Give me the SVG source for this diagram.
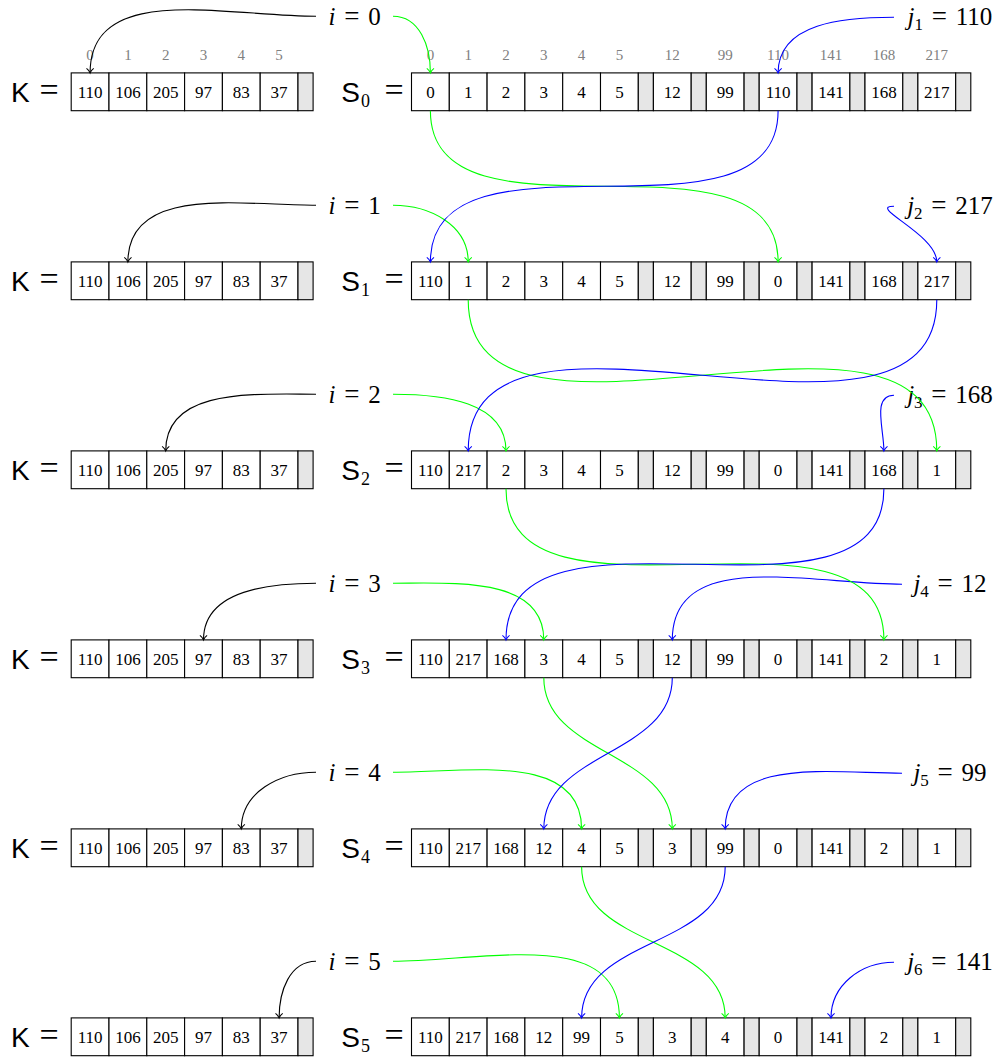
<svg xmlns="http://www.w3.org/2000/svg" xmlns:xlink="http://www.w3.org/1999/xlink" width="1008" height="1059" viewBox="0 0 1008 1059">
<style>
.cell{fill:#fff;stroke:#000;stroke-width:1.1}
.gap{fill:#e6e6e6;stroke:#000;stroke-width:1.1}
.num{font-family:"Liberation Serif",serif;font-size:17px;text-anchor:middle;fill:#000}
.idx{font-family:"Liberation Serif",serif;font-size:15px;text-anchor:middle;fill:#808080}
.lab{font-family:"Liberation Serif",serif;font-size:25px;text-anchor:middle;word-spacing:2.5px;fill:#000}
.le{font-size:27px}
.ss{font-family:"Liberation Sans",sans-serif;font-size:28px;fill:#000}
.eq{font-family:"Liberation Serif",serif;font-size:34px;text-anchor:middle;fill:#000}
.sub{font-family:"Liberation Serif",serif;font-size:18px;fill:#000}
.c{fill:none;stroke-width:1.1}
.k{stroke:#000}
.g{stroke:#00ff00}
.b{stroke:#0000ff}
</style>
<defs>
<marker id="ak" markerUnits="userSpaceOnUse" markerWidth="12" markerHeight="12" viewBox="-7 -6 8 12" refX="0" refY="0" orient="auto"><path d="M-4.5,-3.6 C-3,-1.5 -1,-0.4 0,0 C-1,0.4 -3,1.5 -4.5,3.6" fill="none" stroke="#000" stroke-width="1.1"/></marker>
<marker id="ag" markerUnits="userSpaceOnUse" markerWidth="12" markerHeight="12" viewBox="-7 -6 8 12" refX="0" refY="0" orient="auto"><path d="M-4.5,-3.6 C-3,-1.5 -1,-0.4 0,0 C-1,0.4 -3,1.5 -4.5,3.6" fill="none" stroke="#00ff00" stroke-width="1.1"/></marker>
<marker id="ab" markerUnits="userSpaceOnUse" markerWidth="12" markerHeight="12" viewBox="-7 -6 8 12" refX="0" refY="0" orient="auto"><path d="M-4.5,-3.6 C-3,-1.5 -1,-0.4 0,0 C-1,0.4 -3,1.5 -4.5,3.6" fill="none" stroke="#0000ff" stroke-width="1.1"/></marker>
<g id="kframe">
<rect class="cell" x="71.2" y="0" width="37.8" height="37.8"/>
<rect class="cell" x="109" y="0" width="37.8" height="37.8"/>
<rect class="cell" x="146.8" y="0" width="37.8" height="37.8"/>
<rect class="cell" x="184.6" y="0" width="37.8" height="37.8"/>
<rect class="cell" x="222.4" y="0" width="37.8" height="37.8"/>
<rect class="cell" x="260.2" y="0" width="37.8" height="37.8"/>
<rect class="gap" x="298" y="0" width="15.1" height="37.8"/>
</g>
<g id="sframe">
<rect class="cell" x="411.5" y="0" width="37.8" height="37.8"/>
<rect class="cell" x="449.3" y="0" width="37.8" height="37.8"/>
<rect class="cell" x="487.1" y="0" width="37.8" height="37.8"/>
<rect class="cell" x="524.9" y="0" width="37.8" height="37.8"/>
<rect class="cell" x="562.7" y="0" width="37.8" height="37.8"/>
<rect class="cell" x="600.5" y="0" width="37.8" height="37.8"/>
<rect class="gap" x="638.3" y="0" width="15.1" height="37.8"/>
<rect class="cell" x="653.4" y="0" width="37.8" height="37.8"/>
<rect class="gap" x="691.2" y="0" width="15.1" height="37.8"/>
<rect class="cell" x="706.3" y="0" width="37.8" height="37.8"/>
<rect class="gap" x="744.1" y="0" width="15.1" height="37.8"/>
<rect class="cell" x="759.2" y="0" width="37.8" height="37.8"/>
<rect class="gap" x="797" y="0" width="15.1" height="37.8"/>
<rect class="cell" x="812.1" y="0" width="37.8" height="37.8"/>
<rect class="gap" x="849.9" y="0" width="15.1" height="37.8"/>
<rect class="cell" x="865" y="0" width="37.8" height="37.8"/>
<rect class="gap" x="902.8" y="0" width="15.1" height="37.8"/>
<rect class="cell" x="917.9" y="0" width="37.8" height="37.8"/>
<rect class="gap" x="955.7" y="0" width="15.1" height="37.8"/>
</g>
</defs>

<g id="indices">
<text class="idx" y="59.5"><tspan x="90.1">0</tspan><tspan x="127.9">1</tspan><tspan x="165.7">2</tspan><tspan x="203.5">3</tspan><tspan x="241.3">4</tspan><tspan x="279.1">5</tspan></text>
<text class="idx" y="59.5"><tspan x="430.4">0</tspan><tspan x="468.2">1</tspan><tspan x="506">2</tspan><tspan x="543.8">3</tspan><tspan x="581.6">4</tspan><tspan x="619.4">5</tspan><tspan x="672.3">12</tspan><tspan x="725.2">99</tspan><tspan x="778.1">110</tspan><tspan x="831">141</tspan><tspan x="883.9">168</tspan><tspan x="936.8">217</tspan></text>
</g>

<!-- K rows -->
<g id="K0">
<text class="ss" x="11" y="101.9">K</text><text class="eq" x="49" y="100.5">=</text>
<use xlink:href="#kframe" x="0" y="72.9"/>
<text class="num" y="97.7"><tspan x="90.1">110</tspan><tspan x="127.9">106</tspan><tspan x="165.7">205</tspan><tspan x="203.5">97</tspan><tspan x="241.3">83</tspan><tspan x="279.1">37</tspan></text>
</g>
<g id="K1">
<text class="ss" x="11" y="290.9">K</text><text class="eq" x="49" y="289.5">=</text>
<use xlink:href="#kframe" x="0" y="261.9"/>
<text class="num" y="286.7"><tspan x="90.1">110</tspan><tspan x="127.9">106</tspan><tspan x="165.7">205</tspan><tspan x="203.5">97</tspan><tspan x="241.3">83</tspan><tspan x="279.1">37</tspan></text>
</g>
<g id="K2">
<text class="ss" x="11" y="479.9">K</text><text class="eq" x="49" y="478.5">=</text>
<use xlink:href="#kframe" x="0" y="450.9"/>
<text class="num" y="475.7"><tspan x="90.1">110</tspan><tspan x="127.9">106</tspan><tspan x="165.7">205</tspan><tspan x="203.5">97</tspan><tspan x="241.3">83</tspan><tspan x="279.1">37</tspan></text>
</g>
<g id="K3">
<text class="ss" x="11" y="668.9">K</text><text class="eq" x="49" y="667.5">=</text>
<use xlink:href="#kframe" x="0" y="639.9"/>
<text class="num" y="664.7"><tspan x="90.1">110</tspan><tspan x="127.9">106</tspan><tspan x="165.7">205</tspan><tspan x="203.5">97</tspan><tspan x="241.3">83</tspan><tspan x="279.1">37</tspan></text>
</g>
<g id="K4">
<text class="ss" x="11" y="857.9">K</text><text class="eq" x="49" y="856.5">=</text>
<use xlink:href="#kframe" x="0" y="828.9"/>
<text class="num" y="853.7"><tspan x="90.1">110</tspan><tspan x="127.9">106</tspan><tspan x="165.7">205</tspan><tspan x="203.5">97</tspan><tspan x="241.3">83</tspan><tspan x="279.1">37</tspan></text>
</g>
<g id="K5">
<text class="ss" x="11" y="1046.9">K</text><text class="eq" x="49" y="1045.5">=</text>
<use xlink:href="#kframe" x="0" y="1017.9"/>
<text class="num" y="1042.7"><tspan x="90.1">110</tspan><tspan x="127.9">106</tspan><tspan x="165.7">205</tspan><tspan x="203.5">97</tspan><tspan x="241.3">83</tspan><tspan x="279.1">37</tspan></text>
</g>

<!-- S rows -->
<g id="S0">
<text class="ss" x="360" y="101.9" text-anchor="end">S</text><text class="sub" x="361" y="107">0</text><text class="eq" x="394" y="100.5">=</text>
<use xlink:href="#sframe" x="0" y="72.9"/>
<text class="num" y="97.7"><tspan x="430.4">0</tspan><tspan x="468.2">1</tspan><tspan x="506">2</tspan><tspan x="543.8">3</tspan><tspan x="581.6">4</tspan><tspan x="619.4">5</tspan><tspan x="672.3">12</tspan><tspan x="725.2">99</tspan><tspan x="778.1">110</tspan><tspan x="831">141</tspan><tspan x="883.9">168</tspan><tspan x="936.8">217</tspan></text>
</g>
<g id="S1">
<text class="ss" x="360" y="290.9" text-anchor="end">S</text><text class="sub" x="361" y="296">1</text><text class="eq" x="394" y="289.5">=</text>
<use xlink:href="#sframe" x="0" y="261.9"/>
<text class="num" y="286.7"><tspan x="430.4">110</tspan><tspan x="468.2">1</tspan><tspan x="506">2</tspan><tspan x="543.8">3</tspan><tspan x="581.6">4</tspan><tspan x="619.4">5</tspan><tspan x="672.3">12</tspan><tspan x="725.2">99</tspan><tspan x="778.1">0</tspan><tspan x="831">141</tspan><tspan x="883.9">168</tspan><tspan x="936.8">217</tspan></text>
</g>
<g id="S2">
<text class="ss" x="360" y="479.9" text-anchor="end">S</text><text class="sub" x="361" y="485">2</text><text class="eq" x="394" y="478.5">=</text>
<use xlink:href="#sframe" x="0" y="450.9"/>
<text class="num" y="475.7"><tspan x="430.4">110</tspan><tspan x="468.2">217</tspan><tspan x="506">2</tspan><tspan x="543.8">3</tspan><tspan x="581.6">4</tspan><tspan x="619.4">5</tspan><tspan x="672.3">12</tspan><tspan x="725.2">99</tspan><tspan x="778.1">0</tspan><tspan x="831">141</tspan><tspan x="883.9">168</tspan><tspan x="936.8">1</tspan></text>
</g>
<g id="S3">
<text class="ss" x="360" y="668.9" text-anchor="end">S</text><text class="sub" x="361" y="674">3</text><text class="eq" x="394" y="667.5">=</text>
<use xlink:href="#sframe" x="0" y="639.9"/>
<text class="num" y="664.7"><tspan x="430.4">110</tspan><tspan x="468.2">217</tspan><tspan x="506">168</tspan><tspan x="543.8">3</tspan><tspan x="581.6">4</tspan><tspan x="619.4">5</tspan><tspan x="672.3">12</tspan><tspan x="725.2">99</tspan><tspan x="778.1">0</tspan><tspan x="831">141</tspan><tspan x="883.9">2</tspan><tspan x="936.8">1</tspan></text>
</g>
<g id="S4">
<text class="ss" x="360" y="857.9" text-anchor="end">S</text><text class="sub" x="361" y="863">4</text><text class="eq" x="394" y="856.5">=</text>
<use xlink:href="#sframe" x="0" y="828.9"/>
<text class="num" y="853.7"><tspan x="430.4">110</tspan><tspan x="468.2">217</tspan><tspan x="506">168</tspan><tspan x="543.8">12</tspan><tspan x="581.6">4</tspan><tspan x="619.4">5</tspan><tspan x="672.3">3</tspan><tspan x="725.2">99</tspan><tspan x="778.1">0</tspan><tspan x="831">141</tspan><tspan x="883.9">2</tspan><tspan x="936.8">1</tspan></text>
</g>
<g id="S5">
<text class="ss" x="360" y="1046.9" text-anchor="end">S</text><text class="sub" x="361" y="1052">5</text><text class="eq" x="394" y="1045.5">=</text>
<use xlink:href="#sframe" x="0" y="1017.9"/>
<text class="num" y="1042.7"><tspan x="430.4">110</tspan><tspan x="468.2">217</tspan><tspan x="506">168</tspan><tspan x="543.8">12</tspan><tspan x="581.6">99</tspan><tspan x="619.4">5</tspan><tspan x="672.3">3</tspan><tspan x="725.2">4</tspan><tspan x="778.1">0</tspan><tspan x="831">141</tspan><tspan x="883.9">2</tspan><tspan x="936.8">1</tspan></text>
</g>

<!-- i labels -->
<g id="i0"><text class="lab" x="354.6" y="25.3"><tspan font-style="italic">i</tspan> <tspan class="le">=</tspan> 0</text></g>
<g id="i1"><text class="lab" x="354.6" y="213.7"><tspan font-style="italic">i</tspan> <tspan class="le">=</tspan> 1</text></g>
<g id="i2"><text class="lab" x="354.6" y="402.7"><tspan font-style="italic">i</tspan> <tspan class="le">=</tspan> 2</text></g>
<g id="i3"><text class="lab" x="354.6" y="591.7"><tspan font-style="italic">i</tspan> <tspan class="le">=</tspan> 3</text></g>
<g id="i4"><text class="lab" x="354.6" y="780.7"><tspan font-style="italic">i</tspan> <tspan class="le">=</tspan> 4</text></g>
<g id="i5"><text class="lab" x="354.6" y="969.7"><tspan font-style="italic">i</tspan> <tspan class="le">=</tspan> 5</text></g>

<!-- j labels -->
<g id="j1"><text class="lab" x="950" y="25.3"><tspan font-style="italic">j</tspan><tspan font-size="17" dy="5">1</tspan><tspan dy="-5"> </tspan><tspan class="le">=</tspan> 110</text></g>
<g id="j2"><text class="lab" x="950" y="213.7"><tspan font-style="italic">j</tspan><tspan font-size="17" dy="5">2</tspan><tspan dy="-5"> </tspan><tspan class="le">=</tspan> 217</text></g>
<g id="j3"><text class="lab" x="950" y="402.7"><tspan font-style="italic">j</tspan><tspan font-size="17" dy="5">3</tspan><tspan dy="-5"> </tspan><tspan class="le">=</tspan> 168</text></g>
<g id="j4"><text class="lab" x="950" y="591.7"><tspan font-style="italic">j</tspan><tspan font-size="17" dy="5">4</tspan><tspan dy="-5"> </tspan><tspan class="le">=</tspan> 12</text></g>
<g id="j5"><text class="lab" x="950" y="780.7"><tspan font-style="italic">j</tspan><tspan font-size="17" dy="5">5</tspan><tspan dy="-5"> </tspan><tspan class="le">=</tspan> 99</text></g>
<g id="j6"><text class="lab" x="950" y="969.7"><tspan font-style="italic">j</tspan><tspan font-size="17" dy="5">6</tspan><tspan dy="-5"> </tspan><tspan class="le">=</tspan> 141</text></g>

<g id="connectors">
<!-- i to K -->
<path class="c k" marker-end="url(#ak)" d="M316,16.2 C224.8,16.2 90.1,-18.3 90.1,72.9"/>
<path class="c k" marker-end="url(#ak)" d="M316,205.2 C239.1,205.2 127.9,185 127.9,261.9"/>
<path class="c k" marker-end="url(#ak)" d="M316,394.2 C253.1,394.2 165.7,388 165.7,450.9"/>
<path class="c k" marker-end="url(#ak)" d="M316,583.2 C266.7,583.2 203.5,590.6 203.5,639.9"/>
<path class="c k" marker-end="url(#ak)" d="M316,772.2 C279.3,772.2 241.3,792.2 241.3,828.9"/>
<path class="c k" marker-end="url(#ak)" d="M316,961.2 C289.5,961.2 279.1,991.4 279.1,1017.9"/>
<!-- i to S -->
<path class="c g" marker-end="url(#ag)" d="M393,16.2 C419.6,16.2 430.4,46.3 430.4,72.9"/>
<path class="c g" marker-end="url(#ag)" d="M393,205.2 C429.9,205.2 468.2,225 468.2,261.9"/>
<path class="c g" marker-end="url(#ag)" d="M393,394.2 C442.5,394.2 506,401.4 506,450.9"/>
<path class="c g" marker-end="url(#ag)" d="M393,583.2 C456.1,583.2 543.8,576.8 543.8,639.9"/>
<path class="c g" marker-end="url(#ag)" d="M393,772.2 C470.1,772.2 581.6,751.8 581.6,828.9"/>
<path class="c g" marker-end="url(#ag)" d="M393,961.2 C484.4,961.2 619.4,926.5 619.4,1017.9"/>
<!-- j to S -->
<path class="c b" marker-end="url(#ab)" d="M894,17.2 C843.7,17.2 778.1,22.6 778.1,72.9"/>
<path class="c b" marker-end="url(#ab)" d="M894,206.2 C866.5,206.2 936.8,234.4 936.8,261.9"/>
<path class="c b" marker-end="url(#ab)" d="M894,395.2 C871.8,395.2 883.9,428.7 883.9,450.9"/>
<path class="c b" marker-end="url(#ab)" d="M902,584.2 C809.5,584.2 672.3,547.4 672.3,639.9"/>
<path class="c b" marker-end="url(#ab)" d="M902,773.2 C829.4,773.2 725.2,756.3 725.2,828.9"/>
<path class="c b" marker-end="url(#ab)" d="M894,962.2 C861.1,962.2 831,985 831,1017.9"/>
<!-- swaps -->
<path class="c g" marker-end="url(#ag)" d="M430.4,110.7 C430.4,259.1 778.1,113.5 778.1,261.9"/>
<path class="c b" marker-end="url(#ab)" d="M778.1,110.7 C778.1,259.1 430.4,113.5 430.4,261.9"/>
<path class="c g" marker-end="url(#ag)" d="M468.2,299.7 C468.2,492.5 936.8,258.1 936.8,450.9"/>
<path class="c b" marker-end="url(#ab)" d="M936.8,299.7 C936.8,492.5 468.2,258.1 468.2,450.9"/>
<path class="c g" marker-end="url(#ag)" d="M506,488.7 C506,648 883.9,480.6 883.9,639.9"/>
<path class="c b" marker-end="url(#ab)" d="M883.9,488.7 C883.9,648 506,480.6 506,639.9"/>
<path class="c g" marker-end="url(#ag)" d="M543.8,677.7 C543.8,755.4 672.3,751.2 672.3,828.9"/>
<path class="c b" marker-end="url(#ab)" d="M672.3,677.7 C672.3,755.4 543.8,751.2 543.8,828.9"/>
<path class="c g" marker-end="url(#ag)" d="M581.6,866.7 C581.6,948.3 725.2,936.3 725.2,1017.9"/>
<path class="c b" marker-end="url(#ab)" d="M725.2,866.7 C725.2,948.3 581.6,936.3 581.6,1017.9"/>
</g>
</svg>
